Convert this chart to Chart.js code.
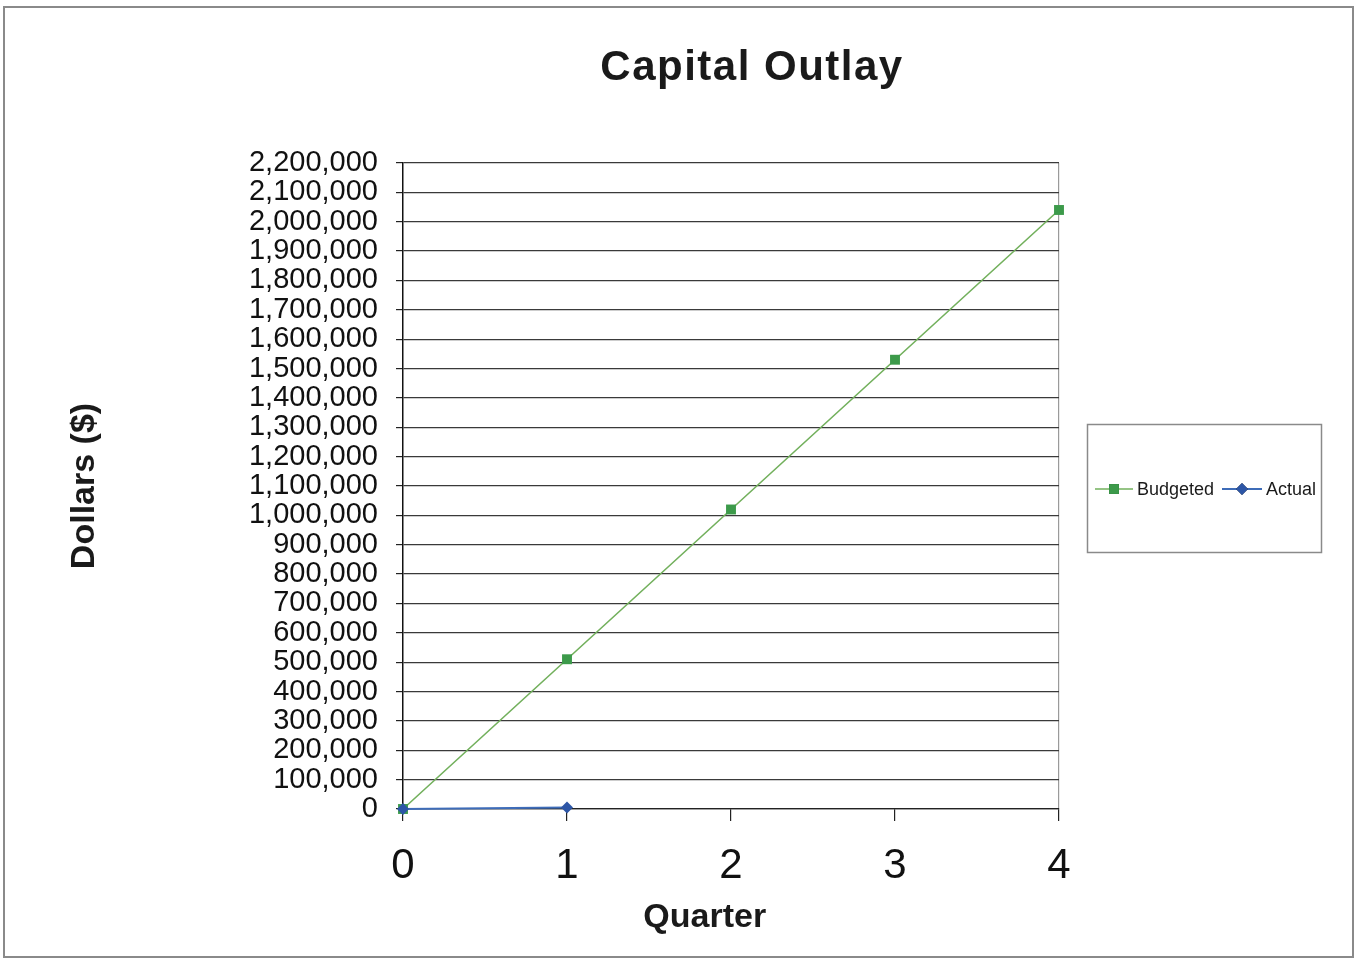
<!DOCTYPE html>
<html>
<head>
<meta charset="utf-8">
<title>Capital Outlay</title>
<script src="https://cdn.jsdelivr.net/npm/chart.js@4.4.1/dist/chart.umd.min.js"></script>
<style>
  html, body { margin: 0; padding: 0; background: #ffffff; }
  #wrap { width: 1356px; height: 961px; position: relative; }
</style>
</head>
<body>
<div id="wrap"><canvas id="c" width="1356" height="961"></canvas></div>
<script>
// Quarter numbers along the x axis
const quarters = [0, 1, 2, 3, 4];
// Cumulative capital outlay per quarter, in dollars
const budgeted = [0, 510000, 1020000, 1530000, 2040000];
const actualQuarters = [0, 1];
const actual = [0, 5000];
// Y axis range and step
const yMin = 0;
const yMax = 2200000;
const yStep = 100000;

const FONT = '"Liberation Sans", Arial, Helvetica, sans-serif';

const toPoints = (xs, ys) => ys.map((y, i) => ({ x: xs[i], y }));

// Frame, title, x-axis caption and the boxed legend
const decor = {
  id: 'decor',
  beforeDraw(chart) {
    const ctx = chart.ctx;
    ctx.save();
    ctx.fillStyle = '#ffffff';
    ctx.fillRect(0, 0, chart.width, chart.height);
    ctx.strokeStyle = '#8a8a8a';
    ctx.lineWidth = 2;
    ctx.strokeRect(4, 7, 1349, 950);
    ctx.restore();
  },
  afterDraw(chart) {
    const ctx = chart.ctx;
    const area = chart.chartArea;
    ctx.save();
    // Title
    ctx.fillStyle = '#1a1a1a';
    ctx.font = 'bold 42px ' + FONT;
    ctx.textAlign = 'center';
    ctx.textBaseline = 'alphabetic';
    try { ctx.letterSpacing = '1.5px'; } catch (e) {}
    ctx.fillText('Capital Outlay', 752, 80);
    try { ctx.letterSpacing = '0px'; } catch (e) {}
    // X axis caption
    ctx.font = 'bold 34px ' + FONT;
    ctx.fillText('Quarter', area.left + (area.right - area.left) * 0.46, 927);

    // Legend box
    const bx = 1087, by = 424, bw = 234, bh = 128;
    ctx.strokeStyle = '#8a8a8a';
    ctx.lineWidth = 1.5;
    ctx.strokeRect(bx + 0.5, by + 0.5, bw, bh);
    const ly = 489;
    const entries = [
      { ds: chart.data.datasets[0], x0: 1095, x1: 1133, tx: 1137 },
      { ds: chart.data.datasets[1], x0: 1222, x1: 1262, tx: 1266 }
    ];
    ctx.font = '18px ' + FONT;
    ctx.textAlign = 'left';
    ctx.textBaseline = 'middle';
    entries.forEach(e => {
      ctx.strokeStyle = e.ds.borderColor;
      ctx.lineWidth = e.ds.borderWidth;
      ctx.beginPath();
      ctx.moveTo(e.x0, ly);
      ctx.lineTo(e.x1, ly);
      ctx.stroke();
      Chart.helpers.drawPoint(ctx, {
        pointStyle: e.ds.pointStyle,
        radius: e.ds.pointRadius,
        rotation: 0,
        borderWidth: 0
      }, (e.x0 + e.x1) / 2, ly);
      ctx.fillStyle = e.ds.pointBackgroundColor;
      ctx.fill();
      ctx.fillStyle = '#1a1a1a';
      ctx.fillText(e.ds.label, e.tx, ly + 1);
    });
    ctx.restore();
  }
};

new Chart(document.getElementById('c'), {
  type: 'line',
  data: {
    datasets: [
      {
        label: 'Budgeted',
        data: toPoints(quarters, budgeted),
        order: 1,
        borderColor: '#72b05c',
        borderWidth: 1.6,
        pointStyle: 'rect',
        pointRadius: 7,
        pointBackgroundColor: '#3c9a4a',
        pointBorderColor: '#3c9a4a',
        pointBorderWidth: 0,
        tension: 0,
        clip: false
      },
      {
        label: 'Actual',
        data: toPoints(actualQuarters, actual),
        order: 0,
        borderColor: '#3e6cb8',
        borderWidth: 2,
        pointStyle: 'rectRot',
        pointRadius: 6,
        pointBackgroundColor: '#2d56a6',
        pointBorderColor: '#2d56a6',
        pointBorderWidth: 0,
        tension: 0,
        clip: false
      }
    ]
  },
  options: {
    responsive: false,
    animation: false,
    events: [],
    layout: { padding: { left: 0, right: 297, top: 163, bottom: 0 } },
    plugins: {
      legend: { display: false },
      title: { display: false },
      tooltip: { enabled: false }
    },
    scales: {
      x: {
        type: 'linear',
        min: quarters[0],
        max: quarters[quarters.length - 1],
        afterFit(scale) { scale.height = 152; },
        ticks: {
          stepSize: 1,
          padding: 20,
          color: '#111',
          font: { family: FONT, size: 42 }
        },
        grid: {
          drawOnChartArea: true,
          drawTicks: true,
          tickLength: 12,
          tickColor: '#222',
          lineWidth: 1.2,
          color: c => (c.tick && c.tick.value === quarters[quarters.length - 1]) ? '#9a9a9a' : 'rgba(0,0,0,0)'
        },
        border: { display: true, color: '#222', width: 1.2 }
      },
      y: {
        min: yMin,
        max: yMax,
        afterFit(scale) { scale.width = 403; },
        ticks: {
          stepSize: yStep,
          autoSkip: false,
          padding: 18,
          color: '#111',
          font: { family: FONT, size: 29, lineHeight: 1.0 },
          callback: v => Number(v).toLocaleString('en-US')
        },
        grid: {
          color: '#3a3a3a',
          lineWidth: 1.2,
          tickLength: 7,
          tickColor: '#222'
        },
        border: { display: true, color: '#111', width: 1.5 },
        title: {
          display: true,
          text: 'Dollars ($)',
          color: '#1a1a1a',
          font: { family: FONT, size: 34, weight: 'bold' },
          padding: { top: 64, bottom: 0 }
        }
      }
    }
  },
  plugins: [decor]
});
</script>
</body>
</html>
